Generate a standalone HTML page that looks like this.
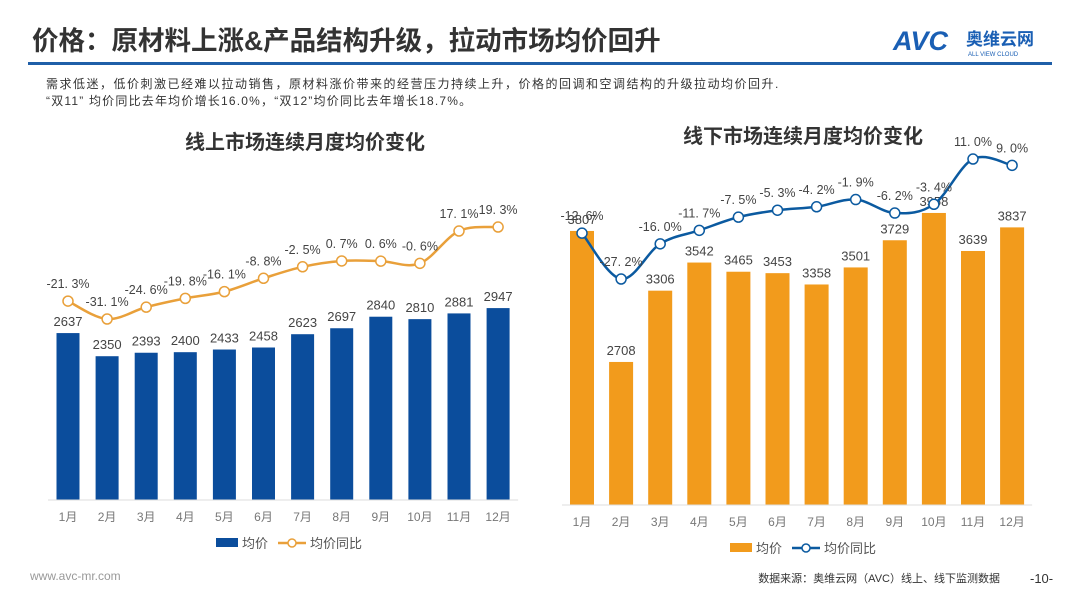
<!DOCTYPE html>
<html><head><meta charset="utf-8"><style>
body{margin:0;width:1080px;height:608px;background:#fff;overflow:hidden;font-family:"Liberation Sans","Noto Sans CJK SC",sans-serif;}
svg text{font-family:"Liberation Sans","Noto Sans CJK SC",sans-serif;}
</style></head><body>
<svg id="s" width="1080" height="608" xmlns="http://www.w3.org/2000/svg">
<text x="32" y="50" font-size="26.5" font-weight="bold" fill="#333">价格：原材料上涨&amp;产品结构升级，拉动市场均价回升</text>
<rect x="28" y="62" width="1024" height="3" fill="#1f5fa8"/>
<text x="893" y="50" font-size="27" font-weight="bold" fill="#1a5fb4" font-style="italic">AVC</text>
<text x="966" y="45" font-size="17" font-weight="bold" fill="#1a5fb4">奥维云网</text>
<text x="968" y="56" font-size="6" fill="#1a5fb4">ALL VIEW CLOUD</text>
<text x="46" y="88" font-size="12" fill="#333" letter-spacing="1.5">需求低迷，低价刺激已经难以拉动销售，原材料涨价带来的经营压力持续上升，价格的回调和空调结构的升级拉动均价回升.</text>
<text x="46" y="105" font-size="12" fill="#333" letter-spacing="1.2">“双11” 均价同比去年均价增长16.0%，“双12”均价同比去年增长18.7%。</text>
<text x="305" y="149" font-size="20" font-weight="bold" fill="#333" text-anchor="middle">线上市场连续月度均价变化</text>
<text x="803" y="143" font-size="20" font-weight="bold" fill="#333" text-anchor="middle">线下市场连续月度均价变化</text>
<text x="30" y="580" font-size="12" fill="#999">www.avc-mr.com</text>
<text x="1000" y="582" font-size="11" fill="#333" text-anchor="end">数据来源：奥维云网（AVC）线上、线下监测数据</text>
<text x="1030" y="583" font-size="13" fill="#333">-10-</text>
<g id="g"></g>
</svg>
<script>
var g=document.getElementById('g'),h='';
function smooth(p){var d='M'+p[0][0]+','+p[0][1];for(var i=0;i<p.length-1;i++){var p0=p[i-1]||p[i],p1=p[i],p2=p[i+1],p3=p[i+2]||p2;var t=0.17;d+=' C'+(p1[0]+(p2[0]-p0[0])*t)+','+(p1[1]+(p2[1]-p0[1])*t)+' '+(p2[0]-(p3[0]-p1[0])*t)+','+(p2[1]-(p3[1]-p1[1])*t)+' '+p2[0]+','+p2[1];}return d;}
function chart(o){
 var pts=[];
 for(var i=0;i<12;i++){
  var cx=o.x0+i*39.1,bh=o.k*(o.v[i]-o.m),top=o.base-bh;
  h+='<rect x="'+(cx-o.bw/2)+'" y="'+top+'" width="'+o.bw+'" height="'+bh+'" fill="'+o.bc+'"/>';
  h+='<text x="'+cx+'" y="'+(top-7)+'" font-size="13" fill="#444" text-anchor="middle">'+o.v[i]+'</text>';
  h+='<text x="'+cx+'" y="'+(o.base+21)+'" font-size="12" fill="#777" text-anchor="middle">'+(i+1)+'月</text>';
  var py=o.ly0-(o.p[i]-o.pmin)*o.pk;pts.push([cx,py]);
 }
 h+='<line x1="'+(o.x0-20)+'" y1="'+o.base+'" x2="'+(o.x0+11*39.1+20)+'" y2="'+o.base+'" stroke="#ddd"/>';
 h+='<path d="'+smooth(pts)+'" fill="none" stroke="'+o.lc+'" stroke-width="2.5"/>';
 for(var i=0;i<12;i++){h+='<circle cx="'+pts[i][0]+'" cy="'+pts[i][1]+'" r="5" fill="#fff" stroke="'+o.lc+'" stroke-width="1.5"/>';
  h+='<text x="'+pts[i][0]+'" y="'+(pts[i][1]-13)+'" font-size="12.5" fill="#444" text-anchor="middle">'+o.p[i].toFixed(1).replace('.','. ')+'%</text>';}
 var ly=o.legY;
 h+='<rect x="'+o.legX+'" y="'+(ly-5)+'" width="22" height="9" fill="'+o.bc+'"/><text x="'+(o.legX+26)+'" y="'+(ly+5)+'" font-size="13" fill="#555">均价</text>';
 h+='<line x1="'+(o.legX+62)+'" y1="'+ly+'" x2="'+(o.legX+90)+'" y2="'+ly+'" stroke="'+o.lc+'" stroke-width="2.5"/><circle cx="'+(o.legX+76)+'" cy="'+ly+'" r="4" fill="#fff" stroke="'+o.lc+'" stroke-width="1.5"/><text x="'+(o.legX+94)+'" y="'+(ly+5)+'" font-size="13" fill="#555">均价同比</text>';
}
chart({x0:68,base:500,bw:23,k:0.0806,m:566,bc:'#0b4d9c',lc:'#e9a03a',
 v:[2637,2350,2393,2400,2433,2458,2623,2697,2840,2810,2881,2947],
 p:[-21.3,-31.1,-24.6,-19.8,-16.1,-8.8,-2.5,0.7,0.6,-0.6,17.1,19.3],ly0:319,pmin:-31.1,pk:1.825,legX:216,legY:543});
chart({x0:582,base:505,bw:24,k:0.1192,m:1508,bc:'#f29b1c',lc:'#0b5aa0',
 v:[3807,2708,3306,3542,3465,3453,3358,3501,3729,3958,3639,3837],
 p:[-12.6,-27.2,-16.0,-11.7,-7.5,-5.3,-4.2,-1.9,-6.2,-3.4,11.0,9.0],ly0:279,pmin:-27.2,pk:3.14,legX:730,legY:548});
g.innerHTML=h;
</script>
</body></html>
